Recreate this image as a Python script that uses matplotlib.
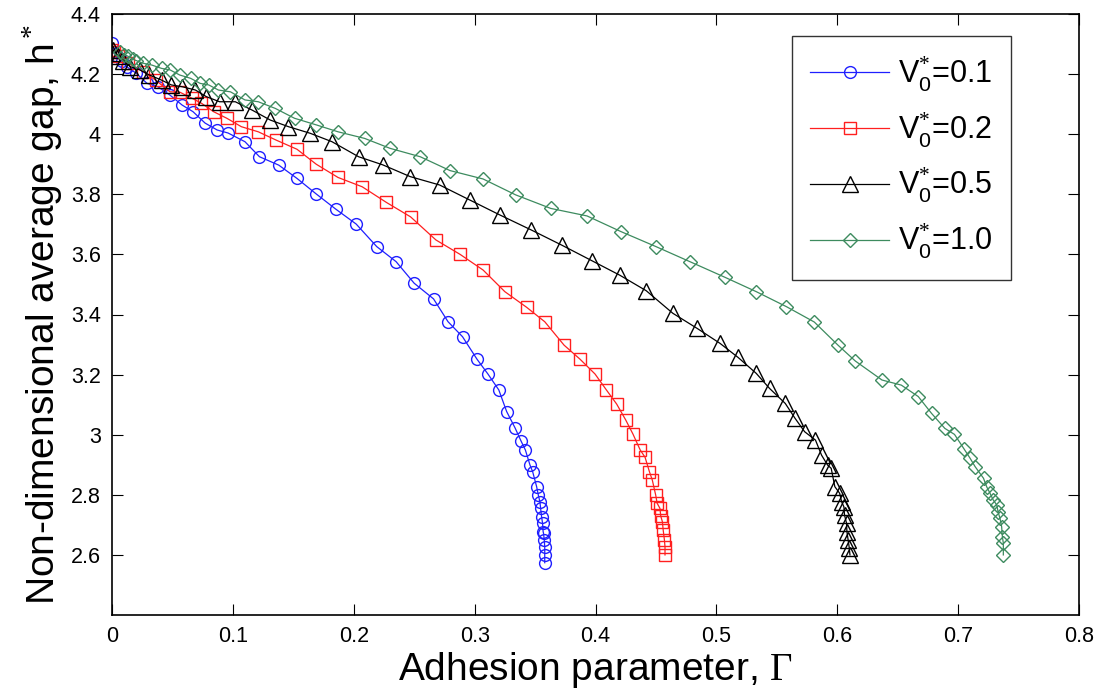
import numpy as np
import matplotlib
matplotlib.use('Agg')
import matplotlib.pyplot as plt
from matplotlib import font_manager

# pick a narrow sans font if present
names = {f.name for f in font_manager.fontManager.ttflist}
narrow = 'Liberation Sans Narrow' if 'Liberation Sans Narrow' in names else 'Liberation Sans'

plt.rcParams['font.family'] = [narrow, 'DejaVu Sans']
plt.rcParams['mathtext.fontset'] = 'custom'
plt.rcParams['mathtext.rm'] = 'Liberation Serif'
plt.rcParams['mathtext.sf'] = narrow
plt.rcParams['mathtext.it'] = narrow

# data
x1 = [0, 0.001, 0.004, 0.008, 0.012, 0.020, 0.029, 0.038, 0.048, 0.058, 0.067, 0.077, 0.087, 0.096,
      0.110, 0.122, 0.138, 0.153, 0.169, 0.185, 0.202, 0.219, 0.235, 0.250, 0.266, 0.278, 0.290,
      0.302, 0.311, 0.320, 0.3265, 0.3334, 0.3384, 0.342, 0.3458, 0.348, 0.3513, 0.3527, 0.354,
      0.3546, 0.3554, 0.3562, 0.3567, 0.357, 0.3576, 0.358, 0.358, 0.358]
y1 = [4.303, 4.273, 4.26, 4.245, 4.225, 4.203, 4.169, 4.158, 4.13, 4.097, 4.075, 4.037, 4.014, 4.004,
      3.975, 3.925, 3.897, 3.853, 3.801, 3.751, 3.701, 3.626, 3.576, 3.504, 3.452, 3.376, 3.326,
      3.251, 3.202, 3.149, 3.077, 3.023, 2.979, 2.949, 2.899, 2.877, 2.827, 2.799, 2.777,
      2.755, 2.727, 2.705, 2.677, 2.672, 2.65, 2.627, 2.60, 2.574]

x2 = [0, 0.002, 0.005, 0.0135, 0.026, 0.036, 0.048, 0.056, 0.066, 0.074, 0.084, 0.095, 0.107, 0.121,
      0.136, 0.153, 0.169, 0.187, 0.207, 0.227, 0.247, 0.268, 0.288, 0.307, 0.325, 0.343, 0.358,
      0.374, 0.387, 0.3996, 0.409, 0.4175, 0.425, 0.431, 0.437, 0.441, 0.4446, 0.447, 0.4498,
      0.451, 0.4533, 0.454, 0.4553, 0.456, 0.457, 0.4575, 0.4575]
y2 = [4.28, 4.275, 4.26, 4.236, 4.208, 4.18, 4.141, 4.14, 4.12, 4.103, 4.075, 4.053, 4.025, 4.008,
      3.98, 3.95, 3.90, 3.856, 3.825, 3.773, 3.725, 3.648, 3.60, 3.548, 3.476, 3.424, 3.376,
      3.298, 3.252, 3.202, 3.149, 3.102, 3.049, 3.002, 2.949, 2.925, 2.877, 2.849, 2.799,
      2.772, 2.755, 2.729, 2.711, 2.683, 2.65, 2.627, 2.60]

x3 = [0, 0.001, 0.005, 0.009, 0.015, 0.023, 0.031, 0.041, 0.049, 0.058, 0.069, 0.078, 0.089, 0.102,
      0.116, 0.131, 0.146, 0.164, 0.182, 0.204, 0.224, 0.2466, 0.271, 0.296, 0.321, 0.347, 0.372,
      0.397, 0.420, 0.442, 0.464, 0.484, 0.503, 0.518, 0.533, 0.544, 0.557, 0.565, 0.573, 0.582,
      0.587, 0.592, 0.595, 0.598, 0.602, 0.6036, 0.6055, 0.606, 0.6077, 0.608, 0.609, 0.61, 0.6105]
y3 = [4.27, 4.28, 4.26, 4.245, 4.225, 4.214, 4.197, 4.18, 4.164, 4.158, 4.147, 4.125, 4.108, 4.108,
      4.08, 4.047, 4.025, 4.003, 3.975, 3.925, 3.898, 3.859, 3.831, 3.781, 3.731, 3.681, 3.631,
      3.579, 3.531, 3.479, 3.404, 3.354, 3.304, 3.257, 3.204, 3.154, 3.104, 3.055, 3.01, 2.982,
      2.932, 2.899, 2.888, 2.827, 2.805, 2.777, 2.760, 2.733, 2.705, 2.677, 2.65, 2.622, 2.60]

x4 = [0.007, 0.010, 0.013, 0.017, 0.020, 0.026, 0.033, 0.041, 0.048, 0.056, 0.065, 0.073, 0.080,
      0.088, 0.098, 0.110, 0.121, 0.135, 0.151, 0.169, 0.187, 0.209, 0.23, 0.255, 0.2796, 0.307,
      0.334, 0.363, 0.393, 0.421, 0.450, 0.478, 0.507, 0.533, 0.558, 0.581, 0.6006, 0.615, 0.637,
      0.653, 0.667, 0.678, 0.689, 0.697, 0.705, 0.710, 0.714, 0.721, 0.7236, 0.7264, 0.729, 0.732,
      0.733, 0.7346, 0.736, 0.7366, 0.7374, 0.7374]
y4 = [4.275, 4.265, 4.26, 4.25, 4.245, 4.236, 4.23, 4.219, 4.214, 4.197, 4.186, 4.169, 4.164,
      4.147, 4.141, 4.114, 4.108, 4.086, 4.053, 4.031, 4.008, 3.986, 3.953, 3.925, 3.879, 3.851,
      3.798, 3.753, 3.728, 3.676, 3.626, 3.576, 3.524, 3.476, 3.426, 3.375, 3.298, 3.245, 3.182,
      3.165, 3.127, 3.071, 3.021, 3.001, 2.952, 2.921, 2.894, 2.855, 2.827, 2.805, 2.783, 2.766,
      2.744, 2.722, 2.694, 2.661, 2.639, 2.60]

labels = [r'V$_\mathsf{0}^{*}$=0.1', r'V$_\mathsf{0}^{*}$=0.2',
          r'V$_\mathsf{0}^{*}$=0.5', r'V$_\mathsf{0}^{*}$=1.0']

fig = plt.figure(figsize=(11.04, 7.0), dpi=100)
ax = fig.add_axes([112 / 1104, 85 / 700, 967 / 1104, 601 / 700])

ax.plot(x1, y1, '-o', color='#1f1fff', mfc='none', ms=8.5, mew=1, lw=0.9, label=labels[0])
ax.plot(x2, y2, '-s', color='#ff1f1f', mfc='none', ms=8.5, mew=1, lw=0.9, label=labels[1])
ax.plot(x3, y3, '-^', color='black', mfc='none', ms=11, mew=1, lw=0.9, label=labels[2])
ax.plot(x4, y4, '-D', color='#3d8b5f', mfc='none', ms=7, mew=1, lw=0.9, label=labels[3])

ax.set_xlim(0, 0.8)
ax.set_ylim(2.4, 4.4)
ax.set_xticks(np.arange(0, 0.81, 0.1))
ax.set_xticklabels(['0', '0.1', '0.2', '0.3', '0.4', '0.5', '0.6', '0.7', '0.8'])
ax.set_yticks(np.arange(2.6, 4.41, 0.2))
ax.set_yticklabels(['2.6', '2.8', '3', '3.2', '3.4', '3.6', '3.8', '4', '4.2', '4.4'])
ax.tick_params(direction='in', length=8, width=0.8, top=True, right=True, labelsize=15.5, pad=8)
for s in ax.spines.values():
    s.set_linewidth(1.2)

ax.set_xlabel(r'Adhesion parameter, $\Gamma$', fontsize=28, labelpad=2)
ax.set_ylabel(r'Non-dimensional average gap, h$^*$', fontsize=28, labelpad=4)

leg = ax.legend(loc='upper right', bbox_to_anchor=(0.93, 0.963), fontsize=22, frameon=True,
                fancybox=False, edgecolor='black', handlelength=2.6, borderpad=0.6,
                labelspacing=0.55, handletextpad=0.3, borderaxespad=0)
leg.get_frame().set_linewidth(1.0)

fig.savefig('out.png', dpi=100)
